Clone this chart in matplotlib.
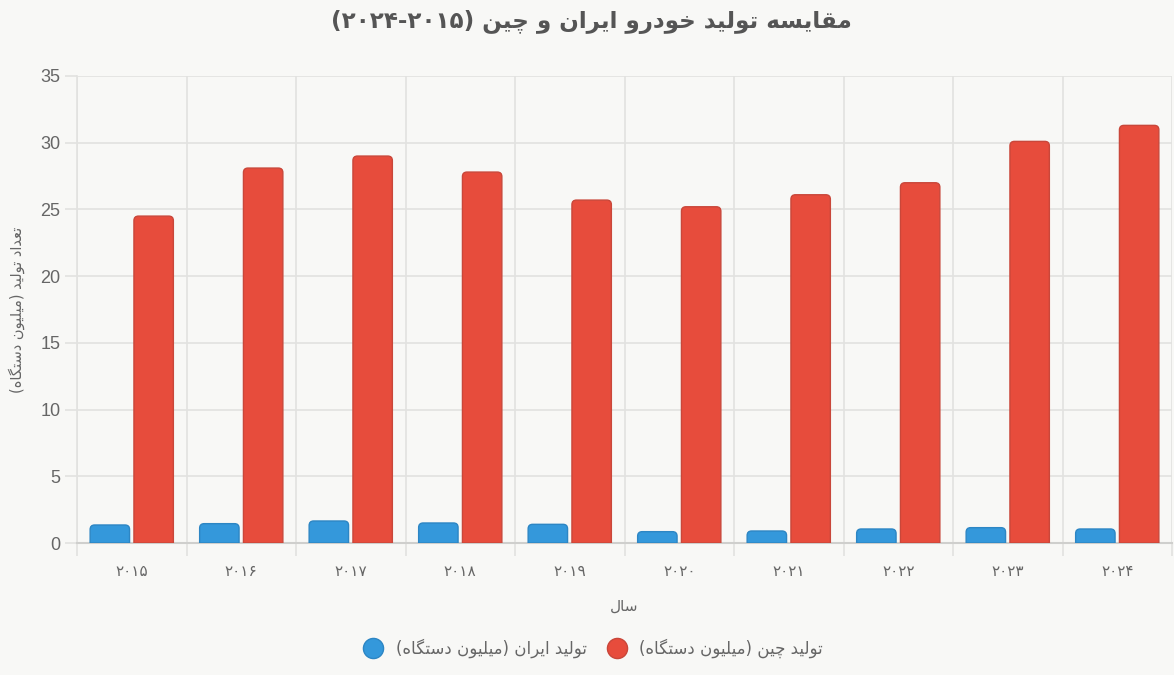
import matplotlib
matplotlib.use("Agg")
import matplotlib.pyplot as plt
from matplotlib.path import Path
from matplotlib.patches import PathPatch
from matplotlib.lines import Line2D

# ---------------- data ----------------
years = ["۲۰۱۵", "۲۰۱۶", "۲۰۱۷", "۲۰۱۸", "۲۰۱۹", "۲۰۲۰", "۲۰۲۱", "۲۰۲۲", "۲۰۲۳", "۲۰۲۴"]
iran = [1.35, 1.45, 1.65, 1.5, 1.4, 0.85, 0.9, 1.05, 1.15, 1.05]
china = [24.5, 28.1, 29.0, 27.8, 25.7, 25.2, 26.1, 27.0, 30.1, 31.3]
title_text = "مقایسه تولید خودرو ایران و چین (۲۰۱۵-۲۰۲۴)"
xlabel_text = "سال"
ylabel_text = "تعداد تولید (میلیون دستگاه)"
label_iran = "تولید ایران (میلیون دستگاه)"
label_china = "تولید چین (میلیون دستگاه)"
yticks = [0, 5, 10, 15, 20, 25, 30, 35]

# -------- minimal Persian shaping + visual ordering --------
FORMS = {
    'م': (0xFEE1, 0xFEE2, 0xFEE3, 0xFEE4),
    'ق': (0xFED5, 0xFED6, 0xFED7, 0xFED8),
    'ی': (0xFBFC, 0xFBFD, 0xFBFE, 0xFBFF),
    'س': (0xFEB1, 0xFEB2, 0xFEB3, 0xFEB4),
    'ه': (0xFEE9, 0xFEEA, 0xFEEB, 0xFEEC),
    'ت': (0xFE95, 0xFE96, 0xFE97, 0xFE98),
    'ل': (0xFEDD, 0xFEDE, 0xFEDF, 0xFEE0),
    'خ': (0xFEA5, 0xFEA6, 0xFEA7, 0xFEA8),
    'ن': (0xFEE5, 0xFEE6, 0xFEE7, 0xFEE8),
    'چ': (0xFB7A, 0xFB7B, 0xFB7C, 0xFB7D),
    'ع': (0xFEC9, 0xFECA, 0xFECB, 0xFECC),
    'گ': (0xFB92, 0xFB93, 0xFB94, 0xFB95),
    'ا': (0xFE8D, 0xFE8E, None, None),
    'و': (0xFEED, 0xFEEE, None, None),
    'د': (0xFEA9, 0xFEAA, None, None),
    'ر': (0xFEAD, 0xFEAE, None, None),
}


def dual(c):
    return c in FORMS and FORMS[c][2] is not None


def joins(c):
    return c in FORMS


def shape(s):
    out = []
    for i, c in enumerate(s):
        if c not in FORMS:
            out.append(c)
            continue
        prev = s[i - 1] if i > 0 else ''
        nxt = s[i + 1] if i + 1 < len(s) else ''
        jp = dual(prev)
        jn = dual(c) and joins(nxt)
        f = FORMS[c]
        if jp and jn:
            out.append(chr(f[3]))
        elif jp:
            out.append(chr(f[1]))
        elif jn:
            out.append(chr(f[2]))
        else:
            out.append(chr(f[0]))
    return ''.join(out)


def rtl(s):
    s = shape(s)
    digits = set('۰۱۲۳۴۵۶۷۸۹0123456789')
    runs = []
    for c in s:
        if c in digits and runs and runs[-1][0] == 'd':
            runs[-1][1] += c
        elif c in digits:
            runs.append(['d', c])
        else:
            runs.append(['o', c])
    mirror = {'(': ')', ')': '('}
    return ''.join(mirror.get(r[1], r[1]) for r in reversed(runs))


# ---------------- style ----------------
BG = '#f8f8f6'
GRID = '#e2e2e0'
TXT = '#666666'
FA = ['DejaVu Sans']
W, H = 1174, 675

fig = plt.figure(figsize=(W / 100, H / 100), dpi=100, facecolor=BG)
ax = fig.add_axes([77 / W, 1 - 543 / H, (1172 - 77) / W, (543 - 76) / H])
ax.set_facecolor(BG)

x = list(range(len(years)))
bw = 0.36
off = 0.2
b1 = ax.bar([i - off for i in x], iran, width=bw, color='#3498db')
b2 = ax.bar([i + off for i in x], china, width=bw, color='#e74c3c')

ax.set_xlim(-0.5, len(years) - 0.5)
ax.set_ylim(0, 35)

# rounded top corners (in pixel sizes)
px_x = (ax.get_xlim()[1] - ax.get_xlim()[0]) / (1172 - 77)
px_y = 35 / (543 - 76)
r = 4.5
rx, ry = r * px_x, r * px_y


def rounded(rect, fc, ec):
    x0, y0 = rect.get_x(), rect.get_y()
    w, h = rect.get_width(), rect.get_height()
    x1, y1 = x0 + w, y0 + h
    ryy = min(ry, h / 2)
    verts = [(x0, y0), (x0, y1 - ryy), (x0, y1), (x0 + rx, y1),
             (x1 - rx, y1), (x1, y1), (x1, y1 - ryy), (x1, y0), (x0, y0)]
    codes = [Path.MOVETO, Path.LINETO, Path.CURVE3, Path.CURVE3,
             Path.LINETO, Path.CURVE3, Path.CURVE3, Path.LINETO, Path.CLOSEPOLY]
    p = PathPatch(Path(verts, codes), facecolor=fc, edgecolor=ec, lw=1.0, zorder=3)
    ax.add_patch(p)
    rect.set_visible(False)


for rect in b1:
    rounded(rect, '#3498db', '#2d86c4')
for rect in b2:
    rounded(rect, '#e74c3c', '#c9473a')

# grid and ticks
ax.set_yticks(yticks)
ax.set_yticklabels([str(v) for v in yticks], family='Liberation Sans', fontsize=13, color=TXT)
ax.set_xticks(x)
ax.set_xticklabels(years, family=FA, fontsize=11, color=TXT)
ax.set_xticks([i - 0.5 for i in range(len(years) + 1)], minor=True)
ax.tick_params(axis='x', which='major', length=0, pad=15)
ax.tick_params(axis='x', which='minor', length=9, color=GRID, width=1.2)
ax.tick_params(axis='y', length=9, color=GRID, width=1.2, pad=3)
ax.grid(axis='y', color=GRID, lw=1.2, zorder=0)
ax.grid(axis='x', which='minor', color=GRID, lw=1.2, zorder=0)
ax.set_axisbelow(True)
for s in ['top', 'right']:
    ax.spines[s].set_visible(False)
ax.spines['left'].set_color(GRID)
ax.spines['left'].set_linewidth(1.2)
ax.spines['bottom'].set_color('#cfcfcd')
ax.spines['bottom'].set_linewidth(1.5)

ax.set_xlabel(rtl(xlabel_text), family=FA, fontsize=11, color=TXT, labelpad=14)
ax.set_ylabel(rtl(ylabel_text), family=FA, fontsize=10.5, color=TXT, va='center')
ax.yaxis.set_label_coords((17 - 77) / (1172 - 77), 0.5)

fig.text(0.5 * (330 + 852) / W, 1 - 22.5 / H, rtl(title_text), family=FA, fontsize=16.6,
         fontweight='bold', color='#555555', ha='center', va='center')

handles = [Line2D([], [], marker='o', ls='', markersize=14.5, markerfacecolor='#3498db',
                  markeredgecolor='#2d86c4'),
           Line2D([], [], marker='o', ls='', markersize=14.5, markerfacecolor='#e74c3c',
                  markeredgecolor='#c9473a')]
leg = fig.legend(handles, [rtl(label_iran), rtl(label_china)], loc='center',
                 bbox_to_anchor=(593 / W, 1 - 648 / H), ncol=2, frameon=False,
                 prop={'family': FA, 'size': 12}, handletextpad=0.75, columnspacing=1.2,
                 handlelength=1.2)
for t in leg.get_texts():
    t.set_color(TXT)

fig.savefig('out.png', dpi=100, facecolor=BG)
